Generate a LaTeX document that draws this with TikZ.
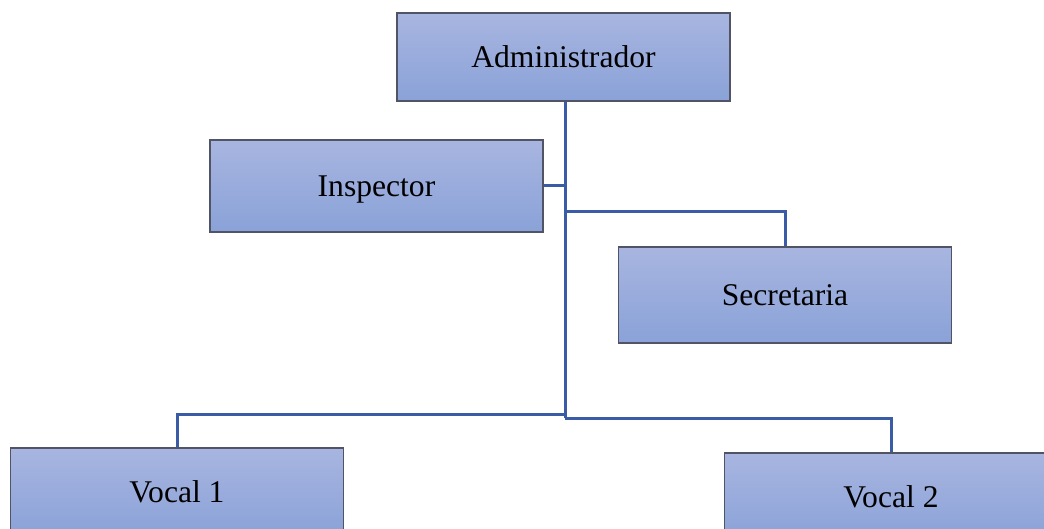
\documentclass[tikz,border=0pt]{standalone}
\usepackage{fontspec}
\setmainfont{Liberation Serif}
\definecolor{boxtop}{RGB}{168,181,224}
\definecolor{boxbot}{RGB}{138,162,216}
\definecolor{boxedge}{RGB}{80,84,100}
\definecolor{conn}{RGB}{58,92,166}
\begin{document}
\begin{tikzpicture}[x=1pt,y=-1pt,
  orgbox/.style={draw=boxedge, line width=1.2pt, top color=boxtop, bottom color=boxbot,
    minimum width=333pt, inner sep=0pt, text depth=0.5pt, font=\fontsize{31.6}{36}\selectfont},
  link/.style={draw=conn, line width=3pt}]
\useasboundingbox (0,0) rectangle (1044,529);
\clip (0,0) rectangle (1044,529);
\node[orgbox, minimum height=88pt] (adm) at (563.5,57) {Administrador};
\node[orgbox, minimum height=92pt] (ins) at (376.5,186) {Inspector};
\node[orgbox, minimum height=96pt] (sec) at (785,295) {Secretaria};
\node[orgbox, minimum height=88pt] (v1) at (177,492) {Vocal 1};
\node[orgbox, minimum height=88pt] (v2) at (891,497) {Vocal 2};
\coordinate (jins) at (565,186);
\coordinate (jsec) at (565,212);
\coordinate (jv1) at (565,414);
\coordinate (jv2) at (565,418);
\draw[link] (adm.south -| jv2) -- (jv2);
\draw[link] (ins.east) -- (jins);
\draw[link] (jsec) -| (sec.north);
\draw[link] (jv1) -| (v1.north);
\draw[link] (jv2) -| (v2.north);
\end{tikzpicture}
\end{document}
